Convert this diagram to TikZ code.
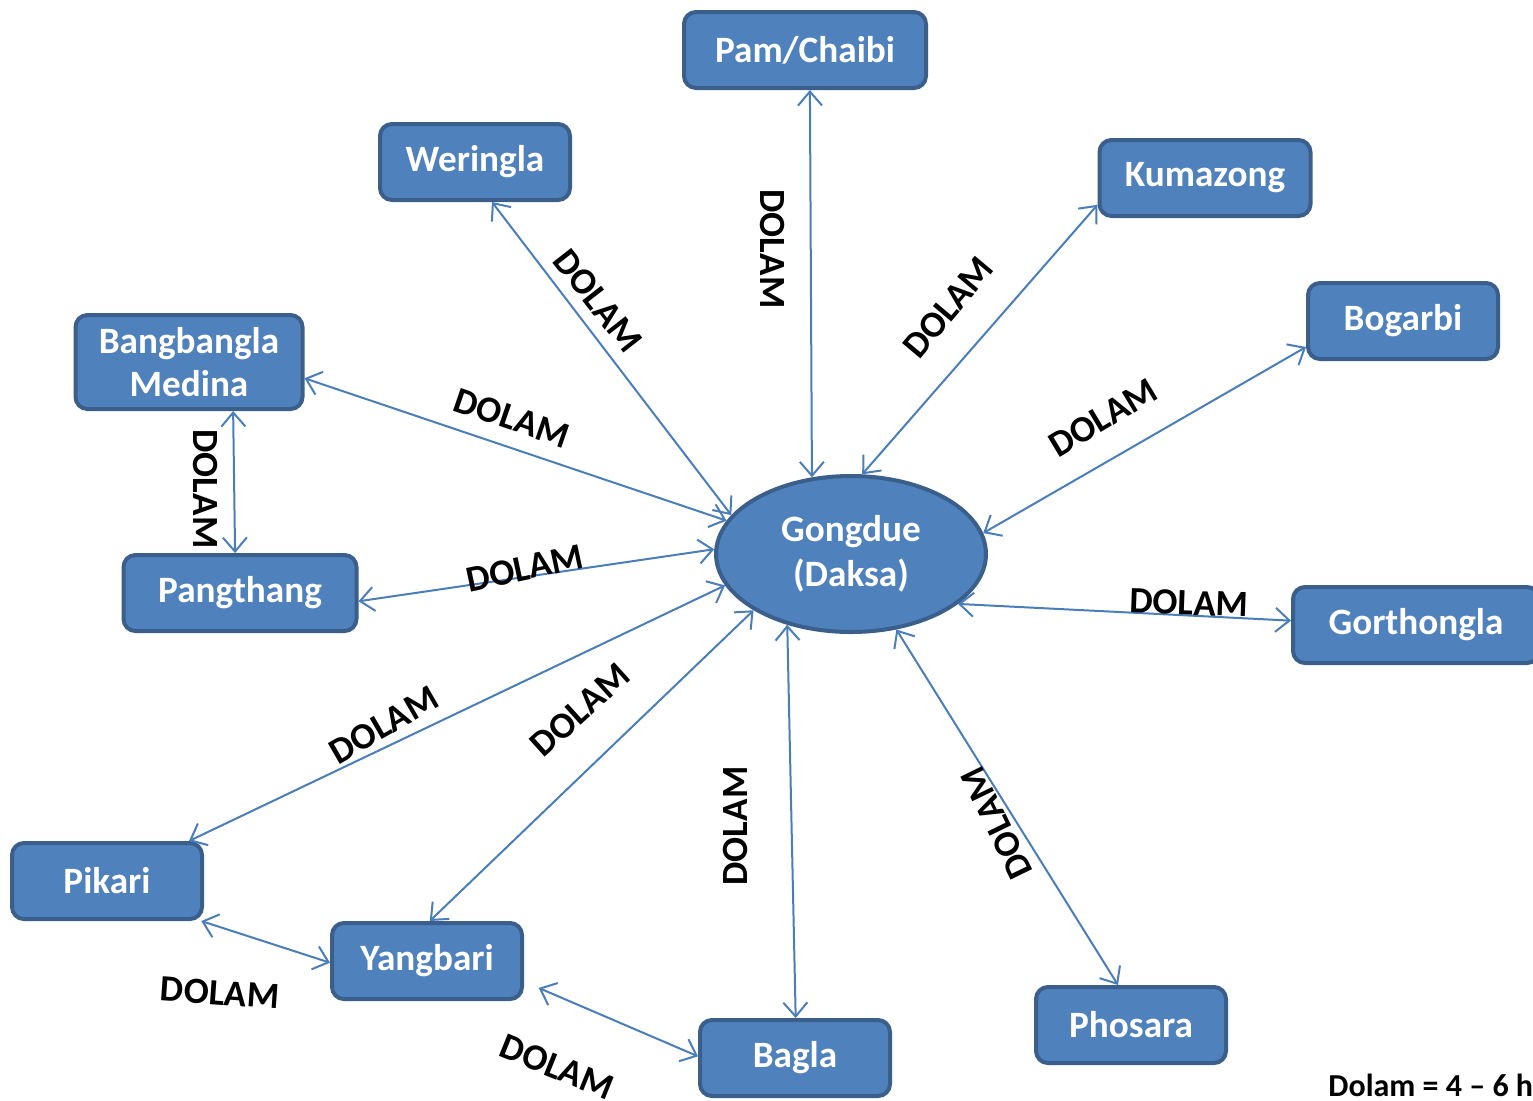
\documentclass[tikz,border=0pt]{standalone}
\usepackage{fontspec}
\setmainfont{Carlito}
\usetikzlibrary{arrows.meta,shapes.geometric}
\definecolor{boxfill}{HTML}{4F81BD}
\definecolor{boxline}{HTML}{3A5F8B}
\definecolor{linkcol}{HTML}{4A7EBB}

\begin{document}
\begin{tikzpicture}[x=0.5pt,y=-0.5pt,
        >={Straight Barb[length=7pt,width=12pt]},
        place/.style={rectangle,rounded corners=6pt,draw=boxline,line width=2pt,
          fill=boxfill,text=white,font=\bfseries\fontsize{18.6}{21.5}\selectfont,
          minimum width=95pt,minimum height=38pt,align=center,inner sep=2pt},
        hub/.style={ellipse,draw=boxline,line width=2pt,fill=boxfill,text=white,
          font=\bfseries\fontsize{18.6}{22.5}\selectfont,
          minimum width=135pt,minimum height=78pt,align=center,inner sep=0pt},
        link/.style={<->,draw=linkcol,line width=1pt},
        dolam/.style={font=\bfseries\fontsize{18.5}{20}\selectfont,inner sep=0pt}]
      \useasboundingbox (0,0) rectangle (1533,1100);
      % places
      \node (Gongdue) [hub] at (851,554) {Gongdue\\(Daksa)};
      \node (Pam) [place,minimum width=121pt] at (805,50) {Pam/Chaibi};
      \node (Weringla) [place] at (475,162) {Weringla};
      \node (Kumazong) [place,minimum width=105.5pt] at (1205,178) {Kumazong};
      \node (Bogarbi) [place] at (1403,321) {Bogarbi};
      \node (Bangbangla) [place,minimum width=113.5pt,minimum height=47pt] at (189,362) {Bangbangla\\Medina};
      \node (Pangthang) [place,minimum width=116.5pt] at (240,593) {Pangthang};
      \node (Gorthongla) [place,minimum width=123pt] at (1416,625) {Gorthongla};
      \node (Pikari) [place] at (107,881) {Pikari};
      \node (Yangbari) [place] at (427,961) {Yangbari};
      \node (Bagla) [place] at (795,1058) {Bagla};
      \node (Phosara) [place] at (1131,1025) {Phosara};
      % links
      \draw[link] (Pam.-83) -- (Gongdue.117);
      \draw[link] (Weringla.-67) -- (Gongdue.162);
      \draw[link] (Kumazong.194) -- (Gongdue.82);
      \draw[link] (Bogarbi.195) -- (Gongdue.9);
      \draw[link] (Bangbangla.-8) -- (Gongdue.165);
      \draw[link] (Bangbangla.-48) -- (Pangthang.97);
      \draw[link] (Pangthang.-4) -- (Gongdue.178);
      \draw[link] (Gongdue.-25) -- (Gorthongla.178);
      \draw[link] (Pikari.26) -- (Gongdue.194);
      \draw[link] (Yangbari.86) -- (Gongdue.210);
      \draw[link] (Bagla.89) -- (Gongdue.228);
      \draw[link] (Phosara.108) -- (Gongdue.-59);
      \draw[link] (Pikari.-23) -- (Yangbari.181);
      \draw[link,shorten <=8pt] (Yangbari.-12) -- (Bagla.179);
      % labels
      \node (lPam) [dolam,rotate=-90] at (772,249) {DOLAM};
      \node (lWer) [dolam,rotate=-52] at (598,301) {DOLAM};
      \node (lKum) [dolam,rotate=50] at (948,307) {DOLAM};
      \node (lBog) [dolam,rotate=31] at (1103,418) {DOLAM};
      \node (lBan) [dolam,rotate=-19] at (512,418) {DOLAM};
      \node (lBanPan) [dolam,rotate=-90] at (206,489) {DOLAM};
      \node (lPan) [dolam,rotate=12] at (525,568) {DOLAM};
      \node (lGor) [dolam,rotate=-2] at (1189,603) {DOLAM};
      \node (lPik) [dolam,rotate=30] at (384,725) {DOLAM};
      \node (lYan) [dolam,rotate=42] at (580,710) {DOLAM};
      \node (lBag) [dolam,rotate=90] at (735,826) {DOLAM};
      \node (lPho) [dolam,rotate=116] at (997,823) {DOLAM};
      \node (lPikYan) [dolam,rotate=-4] at (220,993) {DOLAM};
      \node (lYanBag) [dolam,rotate=-22] at (557,1067) {DOLAM};
      \node (note) [font=\bfseries\fontsize{16}{18}\selectfont,anchor=west,inner sep=0pt] at (1328,1085) {Dolam = 4 – 6 h};
    \end{tikzpicture}
\end{document}
